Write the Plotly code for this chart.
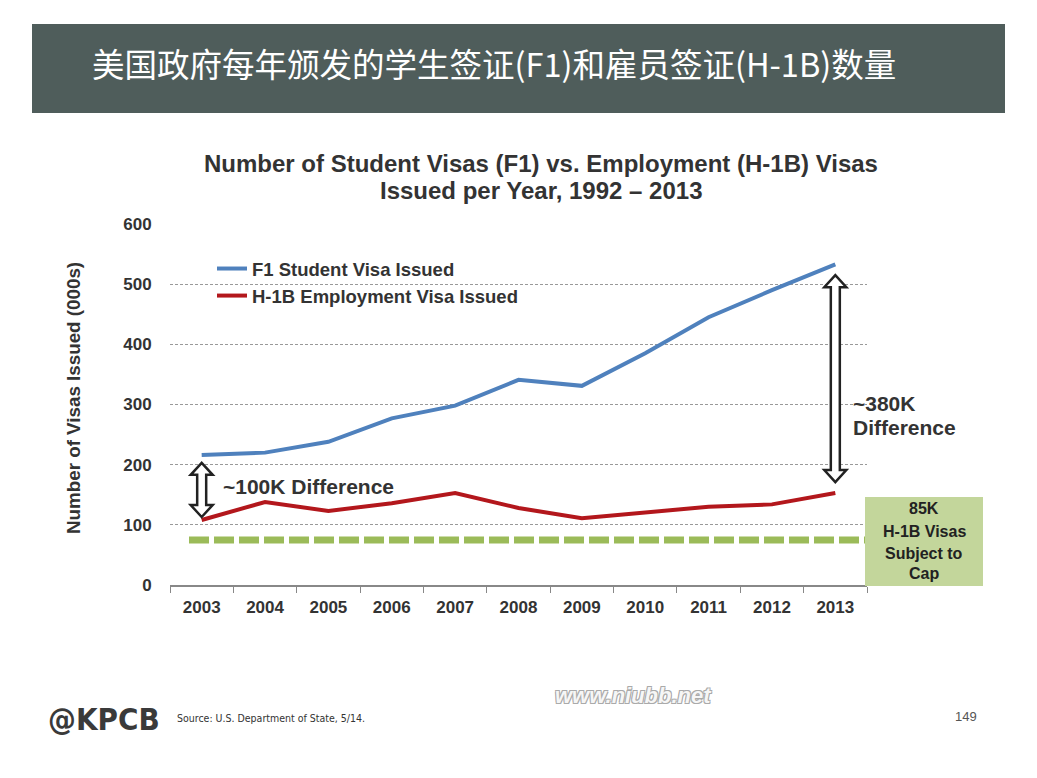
import plotly.graph_objects as go

years = ["2003", "2004", "2005", "2006", "2007", "2008", "2009", "2010", "2011", "2012", "2013"]
f1_visas = [216, 220, 238, 277, 298, 341, 331, 385, 445, 490, 533]
h1b_visas = [108, 138, 123, 136, 153, 128, 111, 121, 130, 134, 153]
cap_line = 75
y_ticks = [0, 100, 200, 300, 400, 500, 600]
# difference arrows: (category index, top value, bottom value)
diff_arrows = [(0, 203, 113), (10, 515, 171)]

W, H = 1037, 778
L, R, T, B = 170, 867, 224, 585
UNIT_PX = (B - T) / 600.0


def px_x(p):
    return (p - L) / (R - L)


def px_y(p):
    return (B - p) / (B - T)


fig = go.Figure()
fig.add_trace(go.Scatter(x=years, y=f1_visas, mode="lines", name="F1 Student Visa Issued",
                         line=dict(color="#4f81bd", width=4)))
fig.add_trace(go.Scatter(x=years, y=h1b_visas, mode="lines", name="H-1B Employment Visa Issued",
                         line=dict(color="#b3171c", width=4)))

shapes = []
# title bar
shapes.append(dict(type="rect", xref="paper", yref="paper", x0=px_x(32), x1=px_x(1005),
                   y0=px_y(113), y1=px_y(24), fillcolor="#4f5d5b", line=dict(width=0), layer="below"))
# cap line
shapes.append(dict(type="line", xref="x", yref="y", x0=-0.2, x1=10.5, y0=cap_line, y1=cap_line,
                   line=dict(color="#9bbb59", width=7, dash="20px,5px")))
# green box
shapes.append(dict(type="rect", xref="paper", yref="paper", x0=px_x(865), x1=px_x(983),
                   y0=px_y(586), y1=px_y(497), fillcolor="#c3d69b", line=dict(width=0)))

# hollow double-headed arrows
hl = 12 / UNIT_PX  # head length in data units
hw, sw = 11, 4.5   # half widths in px
for xi, ytop, ybot in diff_arrows:
    pts = [(0, ytop), (hw, ytop - hl), (sw, ytop - hl), (sw, ybot + hl), (hw, ybot + hl), (0, ybot),
           (-hw, ybot + hl), (-sw, ybot + hl), (-sw, ytop - hl), (-hw, ytop - hl)]
    path = "M " + " L ".join(f"{px},{py}" for px, py in pts) + " Z"
    shapes.append(dict(type="path", xref="x", yref="y", xsizemode="pixel", xanchor=xi, path=path,
                       fillcolor="white", line=dict(color="#222222", width=2.5)))
fig.update_layout(shapes=shapes)

bold = "Liberation Sans"
ann = []
ann.append(dict(text="美国政府每年颁发的学生签证(F1)和雇员签证(H-1B)数量", xref="paper", yref="paper",
                x=px_x(90), y=px_y(62), xanchor="left", yanchor="middle", showarrow=False,
                font=dict(family="Noto Sans CJK SC", size=32.5, color="white")))
for txt, py in [("Number of Student Visas (F1) vs. Employment (H-1B) Visas", 163),
                ("Issued per Year, 1992 – 2013", 190)]:
    ann.append(dict(text="<b>" + txt + "</b>", xref="paper", yref="paper", x=px_x(541), y=px_y(py),
                    xanchor="center", yanchor="middle", showarrow=False,
                    font=dict(family=bold, size=24, color="#333333")))
ann.append(dict(text="<b>Number of Visas Issued (000s)</b>", xref="paper", yref="paper",
                x=px_x(73), y=px_y(398), xanchor="center", yanchor="middle", textangle=-90,
                showarrow=False, font=dict(family=bold, size=18.8, color="#333333")))
ann.append(dict(text="<b>~100K Difference</b>", xref="paper", yref="paper",
                x=px_x(221), y=px_y(486), xanchor="left", yanchor="middle",
                showarrow=False, font=dict(family=bold, size=21, color="#333333")))
for txt, py in [("~380K", 403), ("Difference", 427)]:
    ann.append(dict(text="<b>" + txt + "</b>", xref="paper", yref="paper",
                    x=px_x(851), y=px_y(py), xanchor="left", yanchor="middle",
                    showarrow=False, font=dict(family=bold, size=21, color="#333333")))
for txt, py in [("85K", 508), ("H-1B Visas", 531), ("Subject to", 553), ("Cap", 573)]:
    ann.append(dict(text="<b>" + txt + "</b>", xref="paper", yref="paper",
                    x=px_x(924), y=px_y(py), xanchor="center", yanchor="middle",
                    showarrow=False, font=dict(family=bold, size=16, color="#222222")))

# footer
ann.append(dict(text="<b>@KPCB</b>", xref="paper", yref="paper", x=px_x(46), y=px_y(719),
                xanchor="left", yanchor="middle", showarrow=False,
                font=dict(family="DejaVu Sans Condensed, Liberation Sans", size=31, color="#3a3a3a")))
ann.append(dict(text="Source: U.S. Department of State, 5/14.", xref="paper", yref="paper",
                x=px_x(175), y=px_y(718), xanchor="left", yanchor="middle", showarrow=False,
                font=dict(family="DejaVu Sans Condensed, Liberation Sans", size=10.5, color="#333333")))
ann.append(dict(text="149", xref="paper", yref="paper", x=px_x(979), y=px_y(716),
                xanchor="right", yanchor="middle", showarrow=False,
                font=dict(family="Liberation Sans", size=13, color="#555555")))
ann.append(dict(text="<b><i>www.niubb.net</i></b>", xref="paper", yref="paper", x=px_x(633), y=px_y(695),
                xanchor="center", yanchor="middle", showarrow=False,
                font=dict(family="Liberation Sans", size=22, color="#f6f6f6",
                          shadow="1px 1px 0 #aaa, -1px -1px 0 #aaa, 1px -1px 0 #aaa, -1px 1px 0 #aaa")))
fig.update_layout(annotations=ann)

fig.update_layout(
    width=W, height=H,
    margin=dict(l=L, r=W - R, t=T, b=H - B, pad=0),
    paper_bgcolor="white", plot_bgcolor="white",
    font=dict(family=bold, color="#333333"),
    showlegend=True,
    legend=dict(x=px_x(212), y=px_y(250), xanchor="left", yanchor="top", bgcolor="rgba(0,0,0,0)",
                font=dict(family=bold, size=18.5, color="#333333", weight="bold"),
                itemwidth=30, tracegroupgap=0),
)
fig.update_xaxes(type="category", range=[-0.5, 10.5], tickson="boundaries", ticks="outside",
                 ticklen=6, tickcolor="#888888", showline=True, linecolor="#888888", linewidth=1.5,
                 showgrid=False, zeroline=False, ticklabelstandoff=6,
                 tickfont=dict(family=bold, size=17, color="#333333", weight="bold"))
fig.update_yaxes(range=[0, 600], tickvals=y_ticks, showgrid=True, gridcolor="#999999", griddash="3px,2px",
                 gridwidth=1, zeroline=False, showline=False, ticks="outside", ticklen=14,
                 tickcolor="rgba(0,0,0,0)",
                 tickfont=dict(family=bold, size=17, color="#333333", weight="bold"))

fig.write_html("out.html")
